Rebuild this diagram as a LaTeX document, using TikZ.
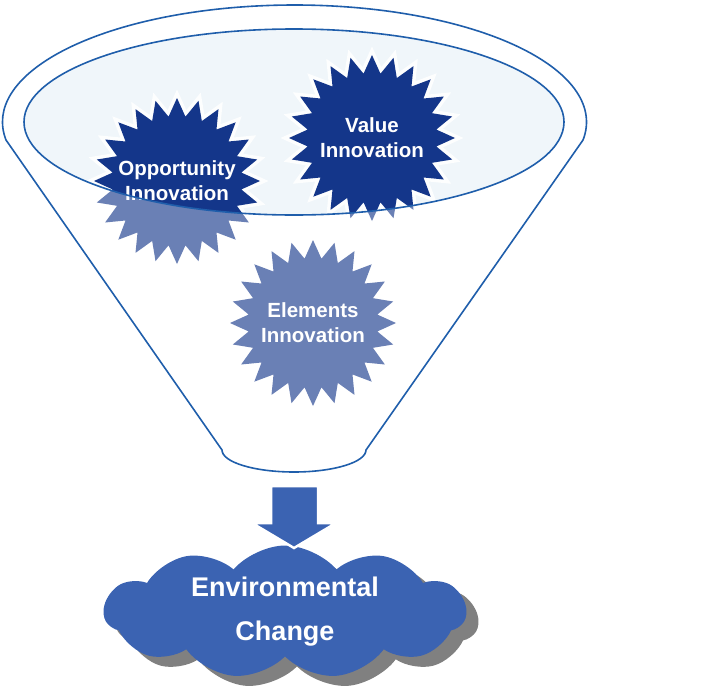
\documentclass[tikz,border=0pt]{standalone}
\usepackage{fontspec}
\setmainfont{Liberation Sans}
\usetikzlibrary{shapes.geometric}
\usetikzlibrary{shapes.symbols}
\usetikzlibrary{shadows}
\tikzset{burst/.style = {star, star points = 24, star point ratio = 1.28, fill = dblue,
                         text = white, font = \bfseries\fontsize{20.5}{25}\selectfont,
                         align = center, inner sep = -14pt, minimum size = 166pt}}
\tikzset{glow/.style = {preaction = {draw = white, line width = 7pt, opacity = 0.9}}}
\definecolor{mblue}{rgb}{0.12, 0.37, 0.67}
\definecolor{dblue}{rgb}{0.08, 0.21, 0.54}
\definecolor{cblue}{rgb}{0.23, 0.39, 0.70}
\definecolor{pale}{rgb}{0.94, 0.965, 0.98}

\begin{document}
\begin{tikzpicture}[x = 1pt, y = -1pt]
    \useasboundingbox (0, 0) rectangle (712, 696);

    \fill [pale] (294, 122) ellipse [x radius = 270, y radius = 93];

    \node [burst, glow] (value) at (372, 138) {Value\\Innovation};
    \node [burst, glow] (opportunity) at (177, 181) {Opportunity\\Innovation};
    \node [burst] (elements) at (313, 323) {Elements\\Innovation};

    \path [fill = white, fill opacity = 0.37, draw = mblue, line width = 1.6pt, even odd rule]
        (6, 140) arc [start angle = 171.15, end angle = 368.85, x radius = 292, y radius = 117]
        -- (366, 450) arc [start angle = 0, end angle = 180, x radius = 72, y radius = 22]
        -- cycle
        (294, 122) ellipse [x radius = 270, y radius = 93];

    \node [cloud, cloud puffs = 11, cloud puff arc = 100, aspect = 2.7, fill = cblue,
           minimum width = 362pt, minimum height = 133pt, inner sep = -12pt, text = white,
           font = \bfseries\fontsize{27}{44}\selectfont, align = center,
           drop shadow = {shadow xshift = 12pt, shadow yshift = -10pt, fill = gray, opacity = 1}]
        (change) at (285, 612) {Environmental\\Change};

    \fill [cblue, draw = white, line width = 2.5pt] (271, 486) -- (318, 486) -- (318, 523)
        -- (336, 523) -- (294, 548) -- (252, 523) -- (271, 523) -- cycle;
\end{tikzpicture}
\end{document}
